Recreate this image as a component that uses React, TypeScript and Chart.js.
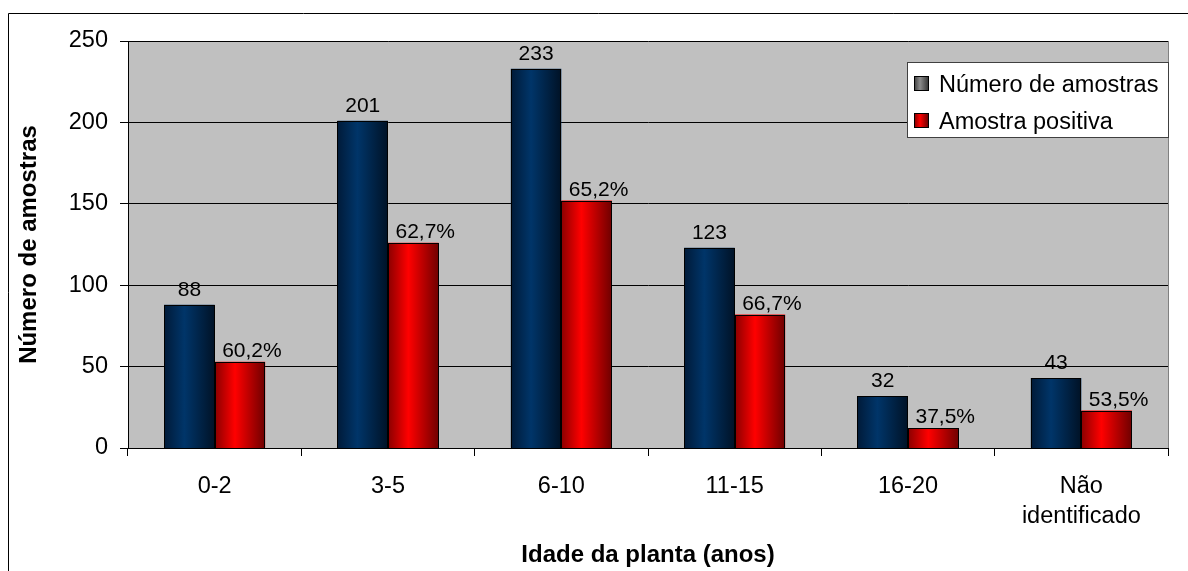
import React, { useEffect, useRef } from "react";
import { Chart, registerables } from "chart.js";

Chart.register(...registerables);

// Age groups of the sampled plants
const ageGroups: (string | string[])[] = ["0-2", "3-5", "6-10", "11-15", "16-20", ["Não", "identificado"]];
// Total samples per age group
const sampleCounts = [88, 201, 233, 123, 32, 43];
// Positive samples per age group
const positiveCounts = [53, 126, 152, 82, 12, 23];
const yTicks = [0, 50, 100, 150, 200, 250];
const seriesNames = ["Número de amostras", "Amostra positiva"];

const FONT = "'Liberation Sans', Arial, sans-serif";

// gradient stops per series: edge, highlight, edge
const barShades = [
  ["#001a38", "#003569", "#001226"],
  ["#8a0000", "#ff0000", "#6e0000"],
];
const swatchShades = [
  ["#3a3a3a", "#8c8c8c", "#2e2e2e"],
  ["#7a0000", "#ff0000", "#5e0000"],
];

const pctLabel = (pos: number, total: number) =>
  ((pos / total) * 100).toFixed(1).replace(".", ",") + "%";

const shadeGradient = (ctx: CanvasRenderingContext2D, x0: number, x1: number, stops: string[]) => {
  const g = ctx.createLinearGradient(x0, 0, x1, 0);
  g.addColorStop(0, stops[0]);
  g.addColorStop(0.4, stops[1]);
  g.addColorStop(1, stops[2]);
  return g;
};

const framePlugin = {
  id: "frame",
  beforeDraw(chart: any) {
    const { ctx, chartArea: a, width, height } = chart;
    ctx.save();
    ctx.fillStyle = "#ffffff";
    ctx.fillRect(0, 0, width, height);
    ctx.fillStyle = "#c0c0c0";
    ctx.fillRect(a.left, a.top, a.right - a.left, a.bottom - a.top);
    ctx.restore();
  },
  beforeDatasetsDraw(chart: any) {
    const { ctx, chartArea: a } = chart;
    ctx.save();
    ctx.strokeStyle = "#808080";
    ctx.lineWidth = 1;
    ctx.beginPath();
    ctx.moveTo(Math.round(a.right) + 0.5, a.top);
    ctx.lineTo(Math.round(a.right) + 0.5, a.bottom);
    ctx.stroke();
    ctx.restore();
  },
  afterDatasetsDraw(chart: any) {
    const { ctx } = chart;
    ctx.save();
    chart.data.datasets.forEach((_ds: any, di: number) => {
      const meta = chart.getDatasetMeta(di);
      meta.data.forEach((bar: any) => {
        const { x, y, base, width } = bar.getProps(["x", "y", "base", "width"], true);
        const left = Math.round(x - width / 2);
        const right = Math.round(x + width / 2);
        const top = Math.round(Math.min(y, base));
        const bottom = Math.round(Math.max(y, base));
        ctx.fillStyle = shadeGradient(ctx, left, right, barShades[di]);
        ctx.fillRect(left, top, right - left, bottom - top);
        ctx.strokeStyle = "#000";
        ctx.lineWidth = 1;
        ctx.strokeRect(left + 0.5, top + 0.5, right - left - 1, bottom - top);
      });
    });
    ctx.restore();
  },
  afterDraw(chart: any) {
    const { ctx, width, height } = chart;
    ctx.save();
    // value labels
    ctx.fillStyle = "#000";
    ctx.font = `21px ${FONT}`;
    ctx.textAlign = "center";
    ctx.textBaseline = "alphabetic";
    const blue = chart.getDatasetMeta(0).data;
    const red = chart.getDatasetMeta(1).data;
    blue.forEach((bar: any, i: number) => {
      ctx.fillText(String(sampleCounts[i]), bar.x, bar.y - 9);
    });
    red.forEach((bar: any, i: number) => {
      ctx.fillText(pctLabel(positiveCounts[i], sampleCounts[i]), bar.x + 12, bar.y - 5);
    });

    // legend
    const lx = 907.5, ly = 62.5, lw = 261, lh = 75;
    ctx.fillStyle = "#ffffff";
    ctx.fillRect(lx, ly, lw, lh);
    ctx.strokeStyle = "#404040";
    ctx.lineWidth = 1;
    ctx.strokeRect(lx, ly, lw, lh);
    ctx.font = `23.5px ${FONT}`;
    ctx.textAlign = "left";
    seriesNames.forEach((name, i) => {
      const sy = 76 + i * 37;
      ctx.fillStyle = shadeGradient(ctx, 914, 929, swatchShades[i]);
      ctx.fillRect(914, sy, 15, 15);
      ctx.strokeStyle = "#000";
      ctx.strokeRect(914.5, sy + 0.5, 14, 14);
      ctx.fillStyle = "#000";
      ctx.fillText(name, 939, sy + 16);
    });

    // outer frame
    ctx.strokeStyle = "#000";
    ctx.lineWidth = 1;
    ctx.beginPath();
    ctx.moveTo(8.5, height);
    ctx.lineTo(8.5, 13.5);
    ctx.lineTo(width, 13.5);
    ctx.stroke();
    ctx.restore();
  },
};

export default function App() {
  const ref = useRef<HTMLCanvasElement>(null);

  useEffect(() => {
    if (!ref.current) return;
    const chart = new Chart(ref.current, {
      type: "bar",
      data: {
        labels: ageGroups as any,
        datasets: [
          {
            label: seriesNames[0],
            data: sampleCounts,
            backgroundColor: barShades[0][1],
            borderWidth: 0,
          },
          {
            label: seriesNames[1],
            data: positiveCounts,
            backgroundColor: barShades[1][1],
            borderWidth: 0,
          },
        ],
      },
      options: {
        responsive: false,
        animation: false,
        layout: { padding: { left: 0, top: 41, right: 20, bottom: 0 } },
        datasets: { bar: { categoryPercentage: 0.583, barPercentage: 1 } },
        plugins: { legend: { display: false }, tooltip: { enabled: false } },
        scales: {
          x: {
            grid: { drawOnChartArea: false, tickLength: 8, color: "#000", offset: true },
            border: { color: "#000" },
            ticks: { color: "#000", padding: 15, font: { family: FONT, size: 23.5, lineHeight: 1.3 }, maxRotation: 0 },
            title: {
              display: true,
              text: "Idade da planta (anos)",
              color: "#000",
              font: { family: FONT, size: 24, weight: "bold" },
              padding: { top: 0, bottom: 1 },
            },
            afterFit: (s: any) => {
              s.height = 123;
            },
          },
          y: {
            min: 0,
            max: 250,
            afterBuildTicks: (s: any) => {
              s.ticks = yTicks.map((v) => ({ value: v }));
            },
            grid: { color: "#000", tickLength: 8 },
            border: { color: "#000" },
            ticks: { color: "#000", padding: 12, font: { family: FONT, size: 23.5 } },
            title: {
              display: true,
              text: "Número de amostras",
              color: "#000",
              font: { family: FONT, size: 24, weight: "bold" },
              padding: { top: 15, bottom: 0 },
            },
            afterFit: (s: any) => {
              s.width = 128;
            },
          },
        },
      },
      plugins: [framePlugin],
    });
    return () => chart.destroy();
  }, []);

  return (
    <div style={{ position: "fixed", left: 0, top: 0, width: 1188, height: 571, background: "#fff" }}>
      <canvas ref={ref} width={1188} height={571} style={{ display: "block" }} />
    </div>
  );
}
